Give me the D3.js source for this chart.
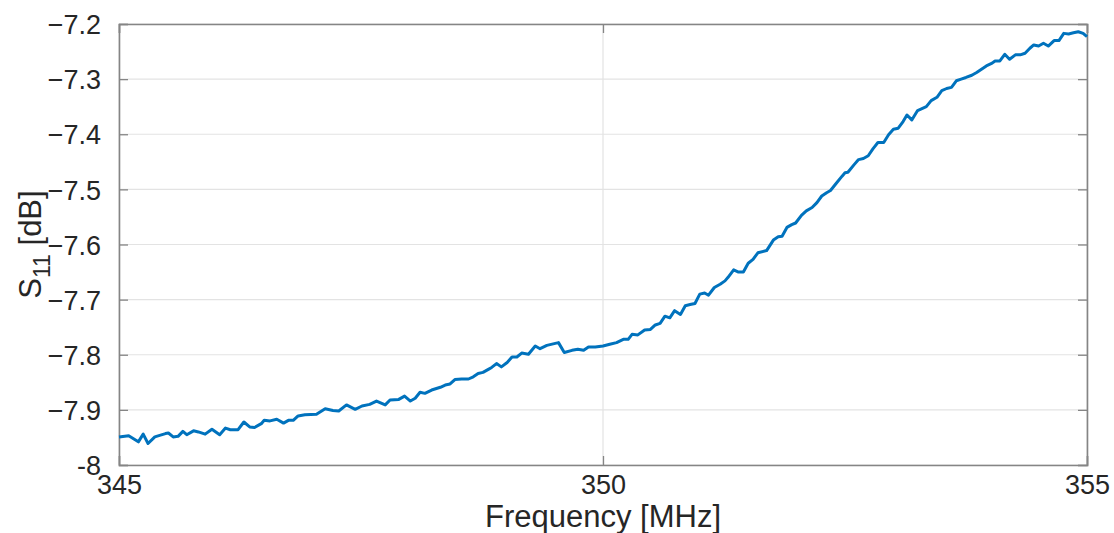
<!DOCTYPE html>
<html>
<head>
<meta charset="utf-8">
<script src="https://cdn.jsdelivr.net/npm/d3@7"></script>
<style>
    body { margin: 0; background: #fff; }
    text { font-family: "Liberation Sans", Arial, Helvetica, sans-serif; fill: #262626; }
</style>
</head>
<body>
<svg id="chart" width="1114" height="533"></svg>
<script>
// frequency [MHz] of each sample
var freq = [
    345.00, 345.10, 345.20, 345.25, 345.30, 345.37, 345.48, 345.51, 345.56, 345.61,
    345.66, 345.70, 345.77, 345.82, 345.89, 345.96, 346.04, 346.10, 346.15, 346.23,
    346.29, 346.35, 346.40, 346.47, 346.50, 346.56, 346.63, 346.70, 346.75, 346.80,
    346.85, 346.92, 347.04, 347.13, 347.21, 347.27, 347.35, 347.44, 347.51, 347.59,
    347.66, 347.75, 347.80, 347.89, 347.95, 348.01, 348.06, 348.11, 348.16, 348.23,
    348.32, 348.37, 348.42, 348.47, 348.54, 348.61, 348.66, 348.71, 348.76, 348.82,
    348.85, 348.90, 348.95, 349.01, 349.06, 349.11, 349.16, 349.23, 349.30, 349.35,
    349.42, 349.54, 349.60, 349.68, 349.74, 349.80, 349.85, 349.92, 350.00, 350.07,
    350.14, 350.21, 350.26, 350.30, 350.36, 350.43, 350.49, 350.54, 350.59, 350.64,
    350.69, 350.74, 350.80, 350.85, 350.90, 350.95, 351.00, 351.05, 351.09, 351.15,
    351.21, 351.26, 351.29, 351.35, 351.40, 351.45, 351.50, 351.55, 351.60, 351.69,
    351.76, 351.81, 351.85, 351.90, 351.95, 351.99, 352.05, 352.10, 352.16, 352.21,
    352.26, 352.31, 352.35, 352.41, 352.47, 352.50, 352.53, 352.59, 352.64, 352.69,
    352.74, 352.79, 352.84, 352.90, 352.95, 353.00, 353.05, 353.10, 353.14, 353.19,
    353.25, 353.34, 353.39, 353.45, 353.50, 353.55, 353.60, 353.65, 353.70, 353.75,
    353.81, 353.86, 353.91, 353.96, 354.02, 354.05, 354.10, 354.15, 354.20, 354.26,
    354.31, 354.36, 354.41, 354.45, 354.50, 354.55, 354.60, 354.66, 354.71, 354.76,
    354.81, 354.86, 354.91, 354.96, 355.00
];

// S11 [dB]
var s11 = [
    -7.949, -7.947, -7.958, -7.944, -7.961, -7.949, -7.943, -7.942, -7.949, -7.948,
    -7.939, -7.945, -7.938, -7.940, -7.944, -7.935, -7.945, -7.933, -7.936, -7.936,
    -7.922, -7.931, -7.932, -7.925, -7.919, -7.920, -7.917, -7.924, -7.919, -7.919,
    -7.911, -7.909, -7.908, -7.898, -7.901, -7.902, -7.891, -7.899, -7.893, -7.890,
    -7.884, -7.891, -7.882, -7.881, -7.875, -7.884, -7.879, -7.868, -7.870, -7.864,
    -7.859, -7.855, -7.853, -7.845, -7.844, -7.844, -7.840, -7.834, -7.832, -7.826,
    -7.823, -7.816, -7.822, -7.814, -7.804, -7.804, -7.797, -7.799, -7.784, -7.789,
    -7.783, -7.778, -7.796, -7.792, -7.790, -7.792, -7.786, -7.786, -7.784, -7.781,
    -7.778, -7.772, -7.772, -7.763, -7.764, -7.755, -7.754, -7.746, -7.743, -7.730,
    -7.733, -7.720, -7.727, -7.711, -7.709, -7.707, -7.690, -7.688, -7.692, -7.678,
    -7.672, -7.666, -7.660, -7.646, -7.650, -7.650, -7.634, -7.627, -7.615, -7.611,
    -7.592, -7.586, -7.585, -7.569, -7.564, -7.561, -7.547, -7.539, -7.533, -7.524,
    -7.512, -7.506, -7.502, -7.489, -7.476, -7.470, -7.469, -7.456, -7.446, -7.444,
    -7.439, -7.426, -7.415, -7.415, -7.401, -7.391, -7.389, -7.377, -7.365, -7.374,
    -7.357, -7.350, -7.339, -7.333, -7.321, -7.317, -7.315, -7.303, -7.300, -7.297,
    -7.293, -7.288, -7.282, -7.276, -7.271, -7.267, -7.267, -7.255, -7.264, -7.256,
    -7.256, -7.253, -7.244, -7.238, -7.240, -7.235, -7.240, -7.230, -7.230, -7.217,
    -7.218, -7.216, -7.214, -7.217, -7.223
];

var xTicks = [345, 350, 355];
var yTicks = [-8, -7.9, -7.8, -7.7, -7.6, -7.5, -7.4, -7.3, -7.2];

var margin = { top: 24, right: 27, bottom: 68, left: 119 },
    width = 1114 - margin.left - margin.right,
    height = 533 - margin.top - margin.bottom,
    tickLen = 9;

var svg = d3.select('#chart'),
    g = svg.append('g').attr('transform', 'translate(' + margin.left + ',' + margin.top + ')');

var x = d3.scaleLinear().domain([345, 355]).range([0, width]),
    y = d3.scaleLinear().domain([-8, -7.2]).range([height, 0]);

var fmtY = function(d) { return d === -8 ? '-8' : d3.format('.1f')(d); };

// GRID
//
g.append('g').selectAll('line.hgrid').data(yTicks).enter().append('line')
    .attr('class', 'hgrid')
    .attr('x1', 0).attr('x2', width)
    .attr('y1', function(d) { return y(d); }).attr('y2', function(d) { return y(d); })
    .attr('stroke', '#e3e3e3').attr('stroke-width', 1.2);

g.append('g').selectAll('line.vgrid').data(xTicks).enter().append('line')
    .attr('class', 'vgrid')
    .attr('x1', function(d) { return x(d); }).attr('x2', function(d) { return x(d); })
    .attr('y1', 0).attr('y2', height)
    .attr('stroke', '#e3e3e3').attr('stroke-width', 1.2);

// AXES (ticks point inward, matlab style)
//
var axisColor = '#858585';

var xBottom = g.append('g').attr('transform', 'translate(0,' + height + ')')
    .call(d3.axisBottom(x).tickValues(xTicks).tickSize(-tickLen).tickPadding(10).tickFormat(d3.format('d')));
var xTop = g.append('g')
    .call(d3.axisTop(x).tickValues(xTicks).tickSize(-tickLen).tickFormat(''));
var yLeft = g.append('g')
    .call(d3.axisLeft(y).tickValues(yTicks).tickSize(-tickLen).tickPadding(tickLen + 9).tickFormat(fmtY));
var yRight = g.append('g').attr('transform', 'translate(' + width + ',0)')
    .call(d3.axisRight(y).tickValues(yTicks).tickSize(-tickLen).tickFormat(''));

[xBottom, xTop, yLeft, yRight].forEach(function(a) {
    a.select('.domain').attr('stroke', axisColor).attr('stroke-width', 1.6);
    a.selectAll('.tick line').attr('stroke', axisColor).attr('stroke-width', 1.3);
    a.selectAll('.tick text').attr('font-size', 27).attr('fill', '#262626');
});
yLeft.selectAll('.tick text').attr('dy', '0.36em');

// LINE
//
var pts = freq.map(function(f, i) { return [f, s11[i]]; });

g.append('path')
    .datum(pts)
    .attr('fill', 'none')
    .attr('stroke', '#0072BD')
    .attr('stroke-width', 3)
    .attr('stroke-linejoin', 'round')
    .attr('d', d3.line()
        .x(function(d) { return x(d[0]); })
        .y(function(d) { return y(d[1]); }));

// LABELS
//
svg.append('text')
    .attr('x', margin.left + x(350))
    .attr('y', 527)
    .attr('text-anchor', 'middle')
    .attr('font-size', 31)
    .text('Frequency [MHz]');

var yl = svg.append('text')
    .attr('transform', 'translate(41,' + (margin.top + height / 2) + ') rotate(-90)')
    .attr('text-anchor', 'middle')
    .attr('font-size', 31);
yl.append('tspan').text('S');
yl.append('tspan').attr('font-size', 23).attr('dy', 9).text('11');
yl.append('tspan').attr('dy', -9).text(' [dB]');
</script>
</body>
</html>
